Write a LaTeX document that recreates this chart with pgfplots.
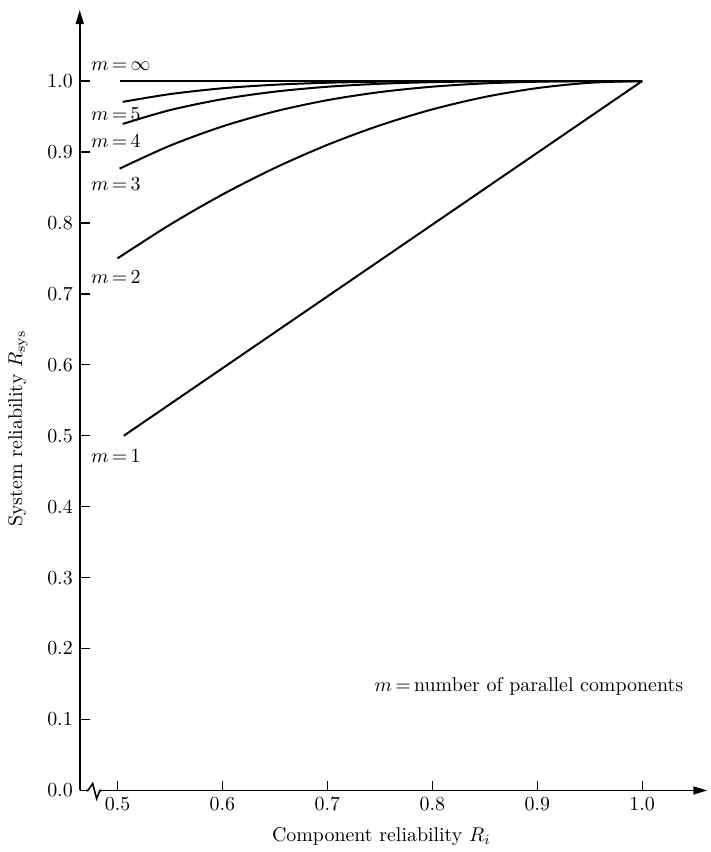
\documentclass[border=0pt]{standalone}
\usepackage{pgfplots}
\pgfplotsset{compat=1.18}
\usetikzlibrary{arrows.meta}
\begin{document}
\begin{tikzpicture}
\begin{axis}[
  x=527pt, y=356.3pt,
  xmin=0.464, xmax=1.062,
  ymin=0, ymax=1.1,
  axis x line=bottom, axis y line=left,
  axis line style={line width=0.8pt, -{Triangle[length=7pt,width=4pt]}},
  xtick align=inside, ytick align=inside,
  major tick length=5pt,
  tick style={line width=0.7pt, black},
  xtick={0.5,0.6,0.7,0.8,0.9,1.0},
  ytick={0,0.1,0.2,0.3,0.4,0.5,0.6,0.7,0.8,0.9,1.0},
  xticklabel style={/pgf/number format/.cd, fixed, fixed zerofill, precision=1},
  yticklabel style={/pgf/number format/.cd, fixed, fixed zerofill, precision=1},
  clip=false,
]
% m = infinity
\addplot[black, line width=1pt] coordinates {(0.502,1.0) (1.0,1.0)};
% m = 5
\addplot[black, line width=1pt, smooth] coordinates {
(0.505,0.9706) (0.55,0.98155) (0.60,0.98976) (0.65,0.99475) (0.70,0.99757) (0.75,0.99902) (0.80,0.99968) (0.85,0.99992) (0.90,0.99999) (0.95,1.0) (1.0,1.0)};
% m = 4
\addplot[black, line width=1pt, smooth] coordinates {
(0.505,0.9395) (0.55,0.9590) (0.60,0.9744) (0.65,0.9850) (0.70,0.9919) (0.75,0.9961) (0.80,0.9984) (0.85,0.9995) (0.90,0.9999) (0.95,1.0) (1.0,1.0)};
% m = 3
\addplot[black, line width=1pt, smooth] coordinates {
(0.502,0.8765) (0.55,0.908875) (0.60,0.936) (0.65,0.957125) (0.70,0.973) (0.75,0.984375) (0.80,0.992) (0.85,0.996625) (0.90,0.999) (0.95,0.999875) (1.0,1.0)};
% m = 2
\addplot[black, line width=1pt, smooth] coordinates {
(0.50,0.75) (0.55,0.7975) (0.60,0.84) (0.65,0.8775) (0.70,0.91) (0.75,0.9375) (0.80,0.96) (0.85,0.9775) (0.90,0.99) (0.95,0.9975) (1.0,1.0)};
% m = 1
\addplot[black, line width=1pt] coordinates {(0.506,0.5) (1.0,1.0)};

% axis break on the x axis
\draw[white, line width=3pt] (axis cs:0.4708,0) -- (axis cs:0.4838,0);
\draw[black, line width=0.8pt, line join=miter] (axis cs:0.4700,0) -- (axis cs:0.4718,0) -- (axis cs:0.4763,0.0098) -- (axis cs:0.4801,-0.0115) -- (axis cs:0.4832,0) -- (axis cs:0.4850,0);

% curve labels
\node[anchor=west, inner sep=0pt] at (axis cs:0.4744,1.021) {$m\,{=}\,\infty$};
\node[anchor=west, inner sep=0pt] at (axis cs:0.4744,0.954) {$m\,{=}\,5$};
\node[anchor=west, inner sep=0pt] at (axis cs:0.4744,0.916) {$m\,{=}\,4$};
\node[anchor=west, inner sep=0pt] at (axis cs:0.4744,0.855) {$m\,{=}\,3$};
\node[anchor=west, inner sep=0pt] at (axis cs:0.4744,0.723) {$m\,{=}\,2$};
\node[anchor=west, inner sep=0pt] at (axis cs:0.4744,0.4715) {$m\,{=}\,1$};
\node at (axis cs:0.892,0.147) {$m$\,=\,number of parallel components};

% axis labels
\node at (axis cs:0.7515,-0.0646) {Component reliability $R_i$};
\node[rotate=90] at (axis cs:0.405,0.51) {System reliability $R_{\mathrm{sys}}$};

% bounding box matching reference proportions
\path (axis cs:0.388,-0.0814) rectangle (axis cs:1.0655,1.1142);
\end{axis}
\end{tikzpicture}
\end{document}
